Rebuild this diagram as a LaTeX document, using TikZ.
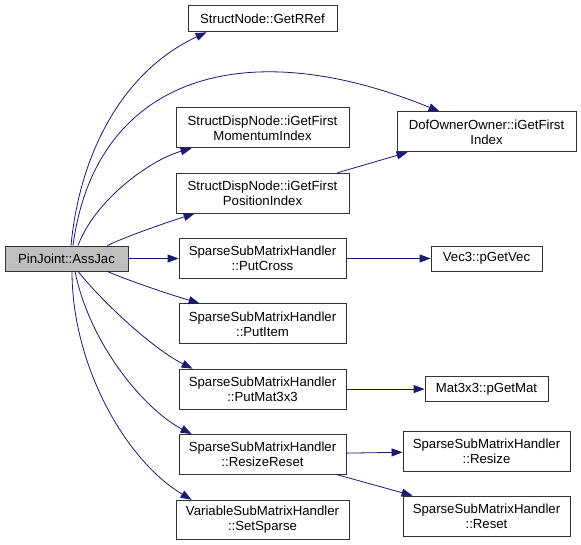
\documentclass[tikz,border=0pt]{standalone}
\usepackage{fontspec}
\setsansfont{Liberation Sans}
\usetikzlibrary{arrows.meta}
\definecolor{callblue}{HTML}{191970}

\begin{document}
\begin{tikzpicture}[x=1pt,y=1pt,->,>={Triangle[length=11pt,width=8pt]},
    callblue,line width=0.8pt,node distance=65.3pt,
    fn node/.style={rectangle,draw=black!80,fill=white,text=black,
      font=\sffamily\fontsize{13.2pt}{15pt}\selectfont,align=center,
      inner sep=0pt,minimum height=40pt},
    root node/.style={fn node,fill=black!25,minimum height=25pt}]
    \useasboundingbox (0,0) rectangle (581,545);

    \node[root node,minimum width=123pt] (AssJac) at (66.5,286.5) {PinJoint::AssJac};
    \node[fn node,minimum width=167pt] (PutCross) [node distance=196pt, right of=AssJac] {SparseSubMatrixHandler\\::PutCross};
    \node[fn node,minimum width=173pt] (Position) [above of=PutCross] {StructDispNode::iGetFirst\\PositionIndex};
    \node[fn node,minimum width=173pt] (Momentum) [above of=Position] {StructDispNode::iGetFirst\\MomentumIndex};
    \node[fn node,minimum width=149pt,minimum height=26pt] (GetRRef) [node distance=109pt, above of=Momentum] {StructNode::GetRRef};
    \node[fn node,minimum width=167pt] (PutItem) [below of=PutCross] {SparseSubMatrixHandler\\::PutItem};
    \node[fn node,minimum width=167pt] (PutMat) [below of=PutItem] {SparseSubMatrixHandler\\::PutMat3x3};
    \node[fn node,minimum width=167pt] (ResizeReset) [below of=PutMat] {SparseSubMatrixHandler\\::ResizeReset};
    \node[fn node,minimum width=173pt,minimum height=39pt] (SetSparse) [below of=ResizeReset] {VariableSubMatrixHandler\\::SetSparse};

    \node[fn node,minimum width=179pt] (DofOwner) [node distance=224pt, right of=Momentum, yshift=-4pt] {DofOwnerOwner::iGetFirst\\Index};
    \node[fn node,minimum width=111pt,minimum height=25pt] (GetVec) [node distance=224pt, right of=PutCross] {Vec3::pGetVec};
    \node[fn node,minimum width=123pt,minimum height=25pt] (GetMat) [node distance=224pt, right of=PutMat] {Mat3x3::pGetMat};
    \node[fn node,minimum width=167pt] (Resize) [node distance=224pt, right of=ResizeReset, yshift=3.4pt] {SparseSubMatrixHandler\\::Resize};
    \node[fn node,minimum width=167pt] (Reset) [node distance=224pt, right of=SetSparse, yshift=3.7pt] {SparseSubMatrixHandler\\::Reset};

    % calls out of PinJoint::AssJac
    \draw ([xshift=4.5pt]AssJac.north) .. controls (80,395) and (125,475) .. ([xshift=19pt]GetRRef.south west);
    \draw ([xshift=6.5pt]AssJac.north) .. controls (95,465) and (240,515) .. ([xshift=43pt]DofOwner.north west);
    \draw ([xshift=11.5pt]AssJac.north) .. controls (95,345) and (150,385) .. ([xshift=16pt]Momentum.south west);
    \draw ([xshift=40.5pt]AssJac.north) .. controls (130,310) and (165,322) .. ([xshift=19pt]Position.south west);
    \draw (AssJac) -- (PutCross);
    \draw ([xshift=40.5pt]AssJac.south) .. controls (130,264) and (165,252) .. ([xshift=21pt]PutItem.north west);
    \draw ([xshift=11.5pt]AssJac.south) .. controls (105,240) and (155,195) .. ([xshift=14pt]PutMat.north west);
    \draw ([xshift=8.5pt]AssJac.south) .. controls (90,200) and (145,135) .. ([xshift=13pt]ResizeReset.north west);
    \draw ([xshift=5.5pt]AssJac.south) .. controls (72,180) and (125,85) .. ([xshift=16pt]SetSparse.north west);

    % second level
    \draw ([xshift=-12pt]Position.north east) -- ([xshift=11pt]DofOwner.south west);
    \draw (PutCross) -- (GetVec);
    \draw (PutMat) -- (GetMat);
    \draw (ResizeReset) -- (Resize);
    \draw ([xshift=-9pt]ResizeReset.south east) -- ([xshift=10pt]Reset.north west);
\end{tikzpicture}
\end{document}
